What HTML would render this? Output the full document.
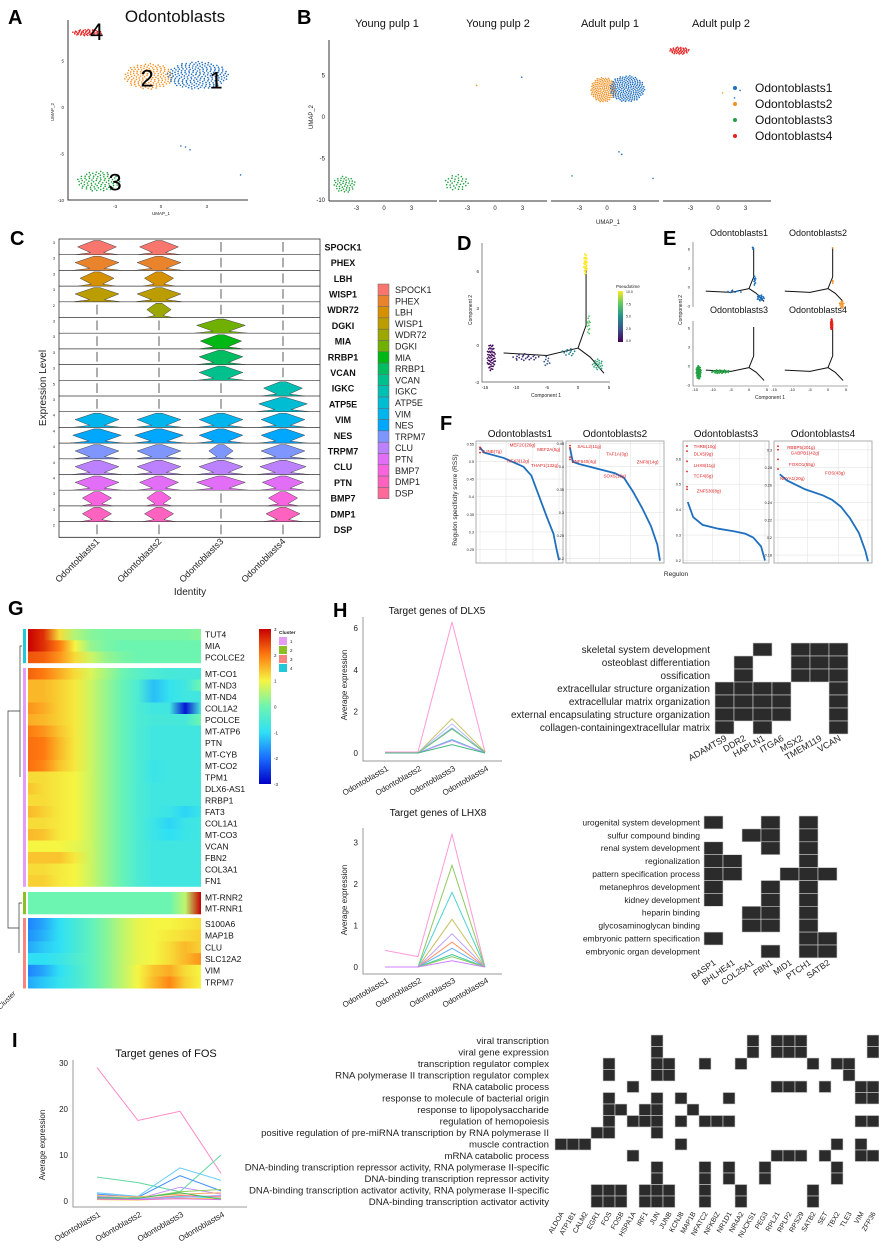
<!DOCTYPE html>
<html><head><meta charset="utf-8"><style>
html,body{margin:0;padding:0;background:#fff}
svg{display:block;font-family:"Liberation Sans",Arial,sans-serif}
</style></head><body>
<svg id="fig" width="879" height="1252" viewBox="0 0 879 1252" xmlns="http://www.w3.org/2000/svg">
<defs id="defs"></defs>
<rect x="0" y="0" width="879" height="1252" fill="#fff"/>
</svg>
<script>
// ===== DATA =====
const umapClustersName=['Odontoblasts1','Odontoblasts2','Odontoblasts3','Odontoblasts4'];
const umapColors=['#1f6fbf','#f39020','#20a040','#e82020'];
const aClouds=[[1,-0.8,3.3,1.6,1.4,150],[0,2.4,3.4,2.0,1.5,200],[3,-4.8,8.0,1.0,0.35,55],[2,-4.1,-8.0,1.4,1.1,90]];
const aStray=[[0,1.3,-4.2],[0,1.6,-4.3],[0,1.9,-4.6],[0,5.2,-7.3]];
const bClouds=[[0,2,-4.3,-8.1,1.2,1.0,45],[1,2,-4.2,-7.9,1.3,1.0,35],[2,1,-0.4,3.3,1.4,1.5,140],[2,0,2.2,3.4,1.9,1.6,180],[3,3,-4.2,8.0,1.1,0.45,45]];
const bStray=[[1,1,-2.0,3.8],[1,0,2.9,4.8],[2,0,1.3,-4.2],[2,0,1.6,-4.5],[2,2,-3.8,-7.1],[2,0,5.0,-7.4],[3,1,0.5,2.9],[3,0,1.8,2.3],[3,0,2.4,3.2]];
const cGenes=['SPOCK1','PHEX','LBH','WISP1','WDR72','DGKI','MIA','RRBP1','VCAN','IGKC','ATP5E','VIM','NES','TRPM7','CLU','PTN','BMP7','DMP1','DSP'];
const cColors=['#F8766D','#E9842C','#D69100','#BC9D00','#9CA700','#6FB000','#00B813','#00BD61','#00C08E','#00C0B4','#00BDD4','#00B5EE','#00A7FF','#7F96FF','#BC81FF','#E26EF7','#F863DF','#FF62BF','#FF6A9A'];
const cTickLabels=['3','3','3','3','2','3','3','3','3','5','3','4','4','4','4','4','3','3','2'];
const cWidths=[[0.8,0.8,0,0],[0.9,0.9,0,0],[0.7,0.6,0,0],[0.9,0.9,0,0],[0,0.5,0,0],[0,0,1,0],[0,0,0.85,0],[0,0,0.9,0],[0,0,0.9,0],[0,0,0,0.8],[0,0,0,1],[0.9,0.9,0.9,0.9],[1,1,0.9,0.9],[0.9,0.9,0.5,0.9],[0.9,0.9,0.9,0.95],[0.9,0.8,1,0.85],[0.6,0.5,0,0.6],[0.6,0.6,0,0.7],[0,0,0,0]];
const identities=['Odontoblasts1','Odontoblasts2','Odontoblasts3','Odontoblasts4'];
const trajBranches=[[[-12,-0.65],[-5,-0.85],[0,-0.25]],[[0,-0.25],[1.3,1.6],[1.3,6.2]],[[0,-0.25],[2,-1.0],[4.2,-2.3]]];
const dClouds=[[-14,-1.0,0.7,1.1,50,0.3],[-8.5,-1.0,2.2,0.3,22,1.6],[-5,-1.3,0.6,0.4,8,2.8],[-1.5,-0.6,1.2,0.3,12,4.5],[1.2,6.6,0.3,0.9,30,10],[1.7,1.6,0.3,0.8,12,7.2],[3.2,-1.6,0.9,0.45,20,6.0]];
const eClouds=[[0,1.1,6.2,0.2,0.2,3],[0,1.6,1.0,0.3,0.9,10],[0,3.2,-1.7,1.1,0.5,16],[0,-4,-0.7,2.5,0.2,8],[1,1.2,6.2,0.1,0.1,1],[1,1.3,0.9,0.2,0.3,3],[1,3.8,-2.8,0.7,0.6,12],[2,-14,-1.0,0.7,1.1,45],[2,-8,-0.9,2.6,0.3,30],[3,1.0,6.6,0.3,0.9,35]];
const eTitles=['Odontoblasts1','Odontoblasts2','Odontoblasts3','Odontoblasts4'];
const fTitles=['Odontoblasts1','Odontoblasts2','Odontoblasts3','Odontoblasts4'];
const fTicks=[[0.25,0.30,0.35,0.40,0.45,0.50,0.55],[0.20,0.25,0.30,0.35,0.40,0.45],[0.2,0.3,0.4,0.5,0.6],[0.18,0.20,0.22,0.24,0.26,0.28,0.30]];
const fCurve1=[[0,0.54],[0.05,0.525],[0.3,0.51],[0.55,0.485],[0.65,0.46],[0.75,0.40],[0.85,0.34],[0.93,0.295],[0.97,0.25],[1,0.22]];
const fCurve2=[[0,0.44],[0.03,0.41],[0.1,0.405],[0.3,0.395],[0.5,0.385],[0.6,0.375],[0.7,0.345],[0.8,0.31],[0.9,0.27],[0.97,0.23],[1,0.195]];
const fCurve3=[[0.01,0.43],[0.08,0.37],[0.2,0.34],[0.4,0.325],[0.6,0.315],[0.75,0.305],[0.85,0.29],[0.95,0.255],[1,0.2]];
const fCurve4=[[0.02,0.272],[0.1,0.265],[0.3,0.255],[0.5,0.248],[0.6,0.243],[0.7,0.235],[0.8,0.222],[0.9,0.205],[0.97,0.185],[1,0.173]];
const fTopDots=[[0.54,0.535,0.525],[0.445,0.44,0.42,0.415],[0.65,0.63,0.59,0.55,0.49,0.48],[0.304,0.30,0.289,0.278]];
const fLabels=[[['MEF2C(26g)',0.35,0.548],['MEF2A(5g)',0.7,0.535],['JUNB(7g)',0,0.53],['RFX3(12g)',0.32,0.502],['THAP1(132g)',0.62,0.49]],[['SALL2(11g)',0.06,0.444],['TAF1A(3g)',0.38,0.428],['ZNF8(14g)',0.72,0.41],['ZNF640(4g)',0,0.412],['SOX5(19g)',0.35,0.38]],[['THRB(10g)',0.06,0.65],['DLX5(9g)',0.06,0.62],['LHX8(11g)',0.06,0.575],['TCF4(6g)',0.06,0.535],['ZNF530(8g)',0.1,0.475]],[['RBBP5(201g)',0.08,0.303],['GABPB1(42g)',0.12,0.297],['FOXO1(55g)',0.1,0.284],['FOS(43g)',0.5,0.274],['NFYA1(20g)',0,0.268]]];
const fRanges=[[0.212,0.558],[0.19,0.455],[0.19,0.67],[0.171,0.31]];
const gGenes=['TUT4','MIA','PCOLCE2','MT-CO1','MT-ND3','MT-ND4','COL1A2','PCOLCE','MT-ATP6','PTN','MT-CYB','MT-CO2','TPM1','DLX6-AS1','RRBP1','FAT3','COL1A1','MT-CO3','VCAN','FBN2','COL3A1','FN1','MT-RNR2','MT-RNR1','S100A6','MAP1B','CLU','SLC12A2','VIM','TRPM7'];
const gCluster=[4,4,4,1,1,1,1,1,1,1,1,1,1,1,1,1,1,1,1,1,1,1,2,2,3,3,3,3,3,3];
const gValues=[
[3,2.6,1.2,0.5,0.2,0.1,0.1,0.1,0.1,0.1,0.1,0.2],
[3,2.6,2,1,0.3,0.1,0,0,0,0,0,0],
[2.3,2.2,1.8,1.2,0.7,0.3,0.1,0,0,0,0,0],
[2.2,2,1.6,1.2,0.8,0.4,0,-0.3,-0.5,-0.6,-0.6,-0.6],
[1.5,1.5,1.3,1.1,0.7,0.3,-0.1,-0.5,-1.3,-0.9,-0.7,0],
[1.5,1.5,1.3,1.1,0.7,0.3,-0.1,-0.5,-1.3,-0.9,-0.7,-0.7],
[1.8,1.6,1.3,1.1,0.7,0.3,-0.1,-0.5,-0.7,-0.7,-2.8,-0.6],
[1.6,1.5,1.3,1.1,0.7,0.3,-0.1,-0.5,-0.6,-0.6,-0.6,0],
[2,1.8,1.4,1.1,0.7,0.3,-0.1,-0.5,-0.7,-0.7,-0.7,-0.7],
[2.1,2,1.5,1.1,0.7,0.3,-0.1,-0.5,-0.7,-0.7,-0.7,-0.7],
[2.1,2,1.5,1.1,0.7,0.3,-0.1,-0.5,-0.7,-0.7,-0.7,-0.7],
[2.1,1.9,1.4,1.1,0.7,0.3,-0.1,-0.5,-0.8,-0.7,-0.7,-0.7],
[1.2,1.2,1.1,1,0.7,0.3,-0.1,-0.5,-0.8,-0.7,-0.7,-0.7],
[1.4,1.2,1.1,1,0.7,0.3,-0.1,-0.5,-0.7,-0.7,-0.7,-0.7],
[1.2,1.2,1.1,1,0.7,0.3,-0.1,-0.5,-0.7,-0.7,-0.7,-0.7],
[1.5,1.3,1.1,1,0.7,0.3,-0.1,-0.5,-0.7,-0.8,-1.1,-0.8],
[1.2,1.2,1.1,1,0.7,0.3,-0.1,-0.5,-0.8,-1.1,-0.8,-0.7],
[1.5,1.4,1.1,1,0.7,0.3,-0.1,-0.5,-0.8,-1,-0.8,-0.7],
[1,1,1,0.9,0.7,0.3,-0.1,-0.5,-0.7,-0.7,-0.7,-0.7],
[1.4,1.4,1.4,1.1,0.7,0.3,-0.1,-0.5,-0.7,-0.7,-0.7,-0.7],
[1.2,1.2,1.1,1,0.7,0.3,-0.1,-0.5,-0.7,-0.7,-0.7,-0.7],
[1.3,1.3,1.1,1,0.7,0.3,-0.1,-0.5,-0.7,-0.7,-0.7,-0.7],
[0,0,0,0,0,0,0,0,0,0,0.6,3],
[0,0,0,0,0,0,0,0,0,0,0.6,3],
[-1.8,-1.5,-1,-0.6,-0.2,0.2,0.6,0.9,1,1,1.1,1.2],
[-1.7,-1.4,-1,-0.6,-0.2,0.2,0.6,0.9,1,1.1,1.2,1.3],
[-1.5,-1.2,-1,-0.6,-0.2,0.2,0.6,0.9,1,1.2,1.5,1.3],
[-1,-1,-0.8,-0.5,-0.2,0.2,0.6,0.9,1,1.2,1.5,1.8],
[-1.8,-1.5,-1,-0.6,-0.2,0.2,0.6,1,1.4,1.6,1.2,1],
[-1.5,-1.2,-0.9,-0.6,-0.2,0.2,0.6,1,1.5,1.9,1.3,1]];
const gScaleTicks=[3,2,1,0,-1,-2,-3];
const gClusterColors={1:'#e49cf5',2:'#8cbf26',3:'#f8857d',4:'#20c8d8'};
const hCats=['Odontoblasts1','Odontoblasts2','Odontoblasts3','Odontoblasts4'];
const dlx5Series=[[0.05,0.05,6.3,0.05],[0,0,1.65,0.05],[0,0,1.4,0],[0,0,1.2,0],[0,0,1.15,0.05],[0,0,0.65,0],[0,0,0.6,0],[0,0,0.4,0]];
const dlx5Colors=['#ff9ad8','#c8c060','#b8c0ff','#80a8ff','#70c870','#50c8c8','#c090ff','#40b880'];
const dlx5Ticks=[0,2,4,6];
const lhx8Series=[[0.4,0.25,3.2,0],[0,0,2.45,0],[0,0,1.8,0],[0,0,1.15,0],[0,0,0.8,0],[0,0,0.6,0],[0,0,0.45,0],[0,0,0.3,0],[0,0,0.25,0],[0,0,0.15,0]];
const lhx8Colors=['#ff9ad8','#90c860','#50d0d0','#c8c060','#c0a0ff','#ff9060','#60b0ff','#40c8a0','#80d060','#d080ff'];
const lhx8Ticks=[0,1,2,3];
const fosSeries=[[29,17.5,19.5,6],[5.2,4,2,10],[1.8,1,7.2,4.5],[1.5,0.8,5.5,2.2],[1,0.5,3,1.5],[0.8,0.6,2,2.5],[1.2,0.9,1.5,1.8],[0.6,0.4,1.2,0.9],[0.5,0.3,1,0.6],[0.9,0.5,0.8,1.2],[0.3,0.2,0.6,0.5],[0.7,0.6,1.8,0.4],[0.4,0.3,0.5,0.3]];
const fosColors=['#ff88c8','#60d8a0','#60c8ff','#4090ff','#c090ff','#90d060','#ffb060','#ff7070','#60e0e0','#a0a0ff','#ffd040','#40c060','#e070e0'];
const fosTicks=[0,10,20,30];
const goDlxTerms=['skeletal system development','osteoblast differentiation','ossification','extracellular structure organization','extracellular matrix organization','external encapsulating structure organization','collagen-containingextracellular matrix'];
const goDlxGenes=['ADAMTS9','DDR2','HAPLN1','ITGA6','MSX2','TMEM119','VCAN'];
const goDlxMatrix=[[0,0,1,0,1,1,1],[0,1,0,0,1,1,1],[0,1,0,0,1,1,1],[1,1,1,1,0,0,1],[1,1,1,1,0,0,1],[1,1,1,1,0,0,1],[1,0,1,0,0,0,1]];
const goLhxTerms=['urogenital system development','sulfur compound binding','renal system development','regionalization','pattern specification process','metanephros development','kidney development','heparin binding','glycosaminoglycan binding','embryonic pattern specification','embryonic organ development'];
const goLhxGenes=['BASP1','BHLHE41','COL25A1','FBN1','MID1','PTCH1','SATB2'];
const goLhxMatrix=[[1,0,0,1,0,1,0],[0,0,1,1,0,1,0],[1,0,0,1,0,1,0],[1,1,0,0,0,1,0],[1,1,0,0,1,1,1],[1,0,0,1,0,1,0],[1,0,0,1,0,1,0],[0,0,1,1,0,1,0],[0,0,1,1,0,1,0],[1,0,0,0,0,1,1],[0,0,0,1,0,1,1]];
const goFosTerms=['viral transcription','viral gene expression','transcription regulator complex','RNA polymerase II transcription regulator complex','RNA catabolic process','response to molecule of bacterial origin','response to lipopolysaccharide','regulation of hemopoiesis','positive regulation of pre-miRNA transcription by RNA polymerase II','muscle contraction','mRNA catabolic process','DNA-binding transcription repressor activity, RNA polymerase II-specific','DNA-binding transcription repressor activity','DNA-binding transcription activator activity, RNA polymerase II-specific','DNA-binding transcription activator activity'];
const goFosGenes=['ALDOA','ATP1B1','CALM2','EGR1','FOS','FOSB','HSPA1A','IRF1','JUN','JUNB','KCNJ8','MAP1B','NFATC2','NFKBIZ','NR1D1','NR4A2','NUCKS1','PEG3','RPL21','RPLP2','RPS29','SATB2','SET','TBX2','TLE3','VIM','ZFP36'];
const goFosHits=[[8,16,18,19,20,26],[8,16,18,19,20,26],[4,8,9,12,15,21,23,24],[4,8,9,24],[6,18,19,20,22,25,26],[4,8,10,14,25,26],[4,5,7,8,11],[4,6,7,8,12,13,10,14,25,26],[3,4,8],[0,1,2,10,23,25],[6,18,19,20,22,25,26],[8,12,14,17,23],[8,12,14,17,23],[3,4,5,7,8,9,12,15,21],[3,4,5,7,8,9,12,15,21]];

// ===== HELPERS =====
const NS='http://www.w3.org/2000/svg';
const svg=document.getElementById('fig');
const defs=document.getElementById('defs');
function el(tag,attrs,parent){const e=document.createElementNS(NS,tag);for(const k in attrs)e.setAttribute(k,attrs[k]);(parent||svg).appendChild(e);return e;}
function T(x,y,s,size,anchor,parent,extra){const e=el('text',Object.assign({x:x,y:y,'font-size':size,'text-anchor':anchor||'start',fill:'#222'},extra||{}),parent);e.textContent=s;return e;}
function G(name){const g=el('g',{});return g;}
function cloud(cx,cy,rx,ry,n){const pts=[];const ga=2.39996;for(let i=0;i<n;i++){const r=Math.sqrt((i+0.5)/n);const a=i*ga;pts.push([cx+rx*r*Math.cos(a),cy+ry*r*Math.sin(a)]);}return pts;}
function panelLetter(x,y,s){const t=T(x,y,s,20,'start',svg,{'font-weight':'bold',fill:'#000'});}

// ===== PANEL A =====
(function(){
const g=G('panel-a-umap');
panelLetter(8,24,'A');
const xs=u=>161+15.3*u, ys=v=>107-9.3*v;
let t=T(175,22,'Odontoblasts',17,'middle',g,{fill:'#111'});

let ax=el('path',{d:'M68,20 V200 H248',stroke:'#333','stroke-width':1,fill:'none'},g);

[5,0,-5,-10].forEach(v=>{const tt=T(64,ys(v)+2,String(v),4.5,'end',g);});
[-3,0,3].forEach(u=>{const tt=T(xs(u),208,String(u),4.5,'middle',g);});
t=T(161,215,'UMAP_1',4.5,'middle',g);
t=T(0,0,'UMAP_2',4.5,'middle',g,{transform:'translate(54,112) rotate(-90)'});
aClouds.forEach(c=>{cloud(c[1],c[2],c[3],c[4],c[5]).forEach(p=>{const d=el('circle',{cx:xs(p[0]),cy:ys(p[1]),r:0.8,fill:umapColors[c[0]]},g);});});
aStray.forEach(s=>{const d=el('circle',{cx:xs(s[1]),cy:ys(s[2]),r:0.8,fill:umapColors[s[0]]},g);});
[['4',-4.2,7.2],['2',-0.9,2.2],['1',3.6,2.0],['3',-3.0,-9.0]].forEach(l=>{const tt=T(xs(l[1]),ys(l[2]),l[0],24,'middle',g,{fill:'#000'});});
})();

// ===== PANEL B =====
(function(){
const g=G('panel-b-umap-facets');
panelLetter(297,24,'B');
const fx=[384,495,607,718], titles=['Young pulp 1','Young pulp 2','Adult pulp 1','Adult pulp 2'];
const ys=v=>117-8.3*v;
const starts=[329,439,551,663];
titles.forEach((s,i)=>{const t=T(fx[i]+3,27,s,11,'middle',g,{fill:'#111'});
 const a=el('line',{x1:starts[i],x2:starts[i]+108,y1:201,y2:201,stroke:'#333','stroke-width':1},g);
 [-3,0,3].forEach(u=>{const tt=T(fx[i]+9.2*u,210,String(u),6,'middle',g);});});
let a=el('line',{x1:329,x2:329,y1:40,y2:201,stroke:'#333','stroke-width':1},g);
[5,0,-5,-10].forEach(v=>{const tt=T(325,ys(v)+2,String(v),6,'end',g);});
let t=T(608,224,'UMAP_1',6,'middle',g);
t=T(0,0,'UMAP_2',6,'middle',g,{transform:'translate(313,117) rotate(-90)'});
bClouds.forEach(c=>{cloud(c[2],c[3],c[4],c[5],c[6]).forEach(p=>{const d=el('circle',{cx:fx[c[0]]+9.2*p[0],cy:ys(p[1]),r:0.8,fill:umapColors[c[1]]},g);});});
bStray.forEach(s=>{const d=el('circle',{cx:fx[s[0]]+9.2*s[2],cy:ys(s[3]),r:0.8,fill:umapColors[s[1]]},g);});
umapClustersName.forEach((n,i)=>{const y=88+16*i;const d=el('circle',{cx:735,cy:y,r:2,fill:umapColors[i]},g);
 const tt=T(755,y+4,n,12,'start',g,{fill:'#111'});});
})();

// ===== PANEL C =====
(function(){
const g=G('panel-c-violin');
panelLetter(10,245,'C');
const top=239, rowH=15.7, x0=59, x1=320, cols=[97,159,221,283];
const fr=el('rect',{x:x0,y:top,width:x1-x0,height:rowH*19,fill:'none',stroke:'#333','stroke-width':0.8},g);
cGenes.forEach((gene,r)=>{const yT=top+r*rowH, yB=yT+rowH;
 const ln=el('line',{x1:x0,x2:x1,y1:yB,y2:yB,stroke:'#333','stroke-width':0.7},g);
 const tk=T(55,yT+5,cTickLabels[r],4,'end',g);
 const lb=T(343,yT+rowH/2+3.5,gene,9,'middle',g,{'font-weight':'bold',fill:'#111'});
 cWidths[r].forEach((w,c)=>{const cx=cols[c];
  if(w<=0){const s=el('line',{x1:cx,x2:cx,y1:yT+3,y2:yB-3,stroke:'#333','stroke-width':0.8},g);return;}
  const W=w*27, mid=yT+rowH*0.5;
  const d=`M${cx-W},${yB} L${cx-W*0.3},${yB-2} L${cx-W*0.9},${mid} L${cx-3},${yT+1.5} L${cx+3},${yT+1.5} L${cx+W*0.9},${mid} L${cx+W*0.3},${yB-2} L${cx+W},${yB} Z`;
  const v=el('path',{d:d,fill:cColors[r],stroke:'#444','stroke-width':0.5},g);});
 const lk=el('rect',{x:378,y:284+r*11.3,width:11,height:11.3,fill:cColors[r],stroke:'#666','stroke-width':0.5},g);
 const lt=T(395,284+r*11.3+9,gene,9,'start',g);
});
identities.forEach((s,i)=>{const t=T(0,0,s,9,'end',g,{transform:`translate(${cols[i]+3},${542}) rotate(-45)`});});
let t=T(190,595,'Identity',10,'middle',g);
t=T(0,0,'Expression Level',10,'middle',g,{transform:'translate(46,388) rotate(-90)'});
})();

// ===== PANEL D =====
function ptColor(p){const st=[[0,[68,1,84]],[2.5,[59,82,139]],[5,[33,145,140]],[7.5,[94,201,98]],[10,[253,231,37]]];for(let i=0;i<4;i++){if(p<=st[i+1][0]){const f=(p-st[i][0])/2.5;const c=st[i][1].map((v,k)=>Math.round(v+(st[i+1][1][k]-v)*f));return `rgb(${c})`;}}return 'rgb(253,231,37)';}
(function(){
const g=G('panel-d-pseudotime');
panelLetter(457,250,'D');
const xs=u=>578+6.2*u, ys=v=>345-12.3*v;
const ax=el('path',{d:'M482,243 V382 H610',stroke:'#555','stroke-width':0.7,fill:'none'},g);
[-3,0,3,6].forEach(v=>{const t=T(479,ys(v)+2,String(v),4.5,'end',g);});
[-15,-10,-5,0,5].forEach(u=>{const t=T(xs(u),389,String(u),4.5,'middle',g);});
let t=T(546,397,'Component 1',5,'middle',g);
t=T(0,0,'Component 2',5,'middle',g,{transform:'translate(472,310) rotate(-90)'});
trajBranches.forEach(b=>{const p=el('polyline',{points:b.map(q=>xs(q[0])+','+ys(q[1])).join(' '),fill:'none',stroke:'#111','stroke-width':1},g);});
dClouds.forEach(c=>{cloud(c[0],c[1],c[2],c[3],c[4]).forEach(p=>{const d=el('circle',{cx:xs(p[0]),cy:ys(p[1]),r:0.9,fill:ptColor(c[5])},g);});});
const lg=el('linearGradient',{id:'viridis',x1:0,y1:1,x2:0,y2:0},defs);
[0,2.5,5,7.5,10].forEach((p,i)=>el('stop',{offset:i/4,'stop-color':ptColor(p)},lg));
const bar=el('rect',{x:618,y:291,width:5,height:51,fill:'url(#viridis)'},g);
t=T(616,288,'Pseudotime',4.5,'start',g);
['10.0','7.5','5.0','2.5','0.0'].forEach((s,i)=>{const tt=T(626,293+i*12.3,s,3.5,'start',g);});
})();

// ===== PANEL E =====
(function(){
const g=G('panel-e-trajectory-facets');
panelLetter(663,245,'E');
const zx=[749,828], zy=[287,366];
eTitles.forEach((s,i)=>{const c=i%2,r=Math.floor(i/2);
 const t=T(zx[c]-10,236+r*77,s,9,'middle',g,{fill:'#111'});
 const xs=u=>zx[c]+3.6*u, ys=v=>zy[r]-6.3*v;
 trajBranches.forEach(b=>{const p=el('polyline',{points:b.map(q=>xs(q[0])+','+ys(q[1])).join(' '),fill:'none',stroke:'#111','stroke-width':1},g);});
 eClouds.filter(e=>e[0]===i).forEach(e=>{cloud(e[1],e[2],e[3],e[4],e[5]).forEach(p=>{const d=el('circle',{cx:xs(p[0]),cy:ys(p[1]),r:0.9,fill:umapColors[i]},g);});});
});
[0,1].forEach(r=>{const a=el('line',{x1:693,x2:693,y1:zy[r]-45,y2:zy[r]+20,stroke:'#555','stroke-width':0.6},g);
 [-3,0,3,6].forEach(v=>{const t=T(690,zy[r]-6.3*v+1.5,String(v),4,'end',g);});});
[0,1].forEach(c=>{const a=el('line',{x1:zx[c]-56,x2:zx[c]+20,y1:386,y2:386,stroke:'#555','stroke-width':0.6},g);
 [-15,-10,-5,0,5].forEach(u=>{const t=T(zx[c]+3.6*u,391,String(u),4,'middle',g);});});
let t=T(770,399,'Component 1',5,'middle',g);
t=T(0,0,'Component 2',5,'middle',g,{transform:'translate(682,310) rotate(-90)'});
})();

// ===== PANEL F =====
(function(){
const g=G('panel-f-regulon-specificity');
panelLetter(440,430,'F');
const boxes=[[476,441,563,563],[566,441,664,563],[683,441,769,563],[774,441,872,563]];
const curves=[fCurve1,fCurve2,fCurve3,fCurve4];
const tx=[520,615,726,823];
boxes.forEach((b,i)=>{const [x0,y0,x1,y1]=b;
 const t=T(tx[i],437,fTitles[i],10,'middle',g,{fill:'#111'});
 const ys=v=>y1-(v-fRanges[i][0])/(fRanges[i][1]-fRanges[i][0])*(y1-y0);
 const xs=f=>x0+4+f*(x1-x0-8);
 [0,0.33,0.67,1].forEach(f=>{const l=el('line',{x1:xs(f),x2:xs(f),y1:y0,y2:y1,stroke:'#e4e4e4','stroke-width':0.6},g);});
 fTicks[i].forEach(v=>{const l=el('line',{x1:x0,x2:x1,y1:ys(v),y2:ys(v),stroke:'#e4e4e4','stroke-width':0.6},g);
  const tt=T(x0-2,ys(v)+1.5,v.toFixed(2).replace(/0$/,'').replace(/^0\.(\d)$/,'0.$1'),3.8,'end',g);});
 const fr=el('rect',{x:x0,y:y0,width:x1-x0,height:y1-y0,fill:'none',stroke:'#999','stroke-width':0.8},g);
 const pl=el('polyline',{points:curves[i].map(p=>xs(p[0])+','+ys(p[1])).join(' '),fill:'none',stroke:'#1f6fbf','stroke-width':1.8},g);
 fTopDots[i].forEach(v=>{const d=el('circle',{cx:xs(0),cy:ys(v),r:0.9,fill:'#e02020'},g);});
 fLabels[i].forEach(l=>{const tt=T(xs(l[1])+2,ys(l[2])+2,l[0],4.5,'start',g,{fill:'#e02020'});});
});
let t=T(676,576,'Regulon',6.5,'middle',g);
t=T(0,0,'Regulon specificity score (RSS)',6.5,'middle',g,{transform:'translate(457,500) rotate(-90)'});
})();

// ===== PANEL G =====
const heatStops=[[-3,'#0000c8'],[-2,'#1a6dff'],[-1,'#2fe0f5'],[0,'#6cf5b0'],[1,'#f5f542'],[2,'#ff7a10'],[3,'#c80000']];
function heatColor(v){v=Math.max(-3,Math.min(3,v));for(let i=0;i<6;i++){if(v<=heatStops[i+1][0]){const f=v-heatStops[i][0];const a=hex(heatStops[i][1]),b=hex(heatStops[i+1][1]);return 'rgb('+a.map((x,k)=>Math.round(x+(b[k]-x)*f)).join(',')+')';}}return heatStops[6][1];}
function hex(h){return [1,3,5].map(i=>parseInt(h.substr(i,2),16));}
(function(){
const g=G('panel-g-heatmap');
panelLetter(8,615,'G');
const blocks={4:[629,11.3],1:[668,11.5],2:[892,11],3:[918,11.7]};
const firstIdx={4:0,1:3,2:22,3:24};
gGenes.forEach((gene,r)=>{const cl=gCluster[r];const y=blocks[cl][0]+(r-firstIdx[cl])*blocks[cl][1];const h=blocks[cl][1];
 const lg=el('linearGradient',{id:'hg'+r,x1:0,x2:1,y1:0,y2:0},defs);
 gValues[r].forEach((v,k)=>el('stop',{offset:k/(gValues[r].length-1),'stop-color':heatColor(v)},lg));
 const rc=el('rect',{x:28,y:y,width:173,height:h+0.3,fill:'url(#hg'+r+')'},g);
 const an=el('rect',{x:23,y:y,width:3,height:h+0.3,fill:gClusterColors[cl]},g);
 const t=T(205,y+h/2+3,gene,8.5,'start',g,{fill:'#111'});
});
const dn=el('path',{d:'M22,646 H20 V777 M22,903 H19 V953 M20,711 H8 V928 H19',fill:'none',stroke:'#333','stroke-width':0.7},g);
const cg=el('linearGradient',{id:'heatbar',x1:0,y1:0,x2:0,y2:1},defs);
gScaleTicks.forEach((v,i)=>el('stop',{offset:i/6,'stop-color':heatColor(v)},cg));
const cb=el('rect',{x:259,y:629,width:12,height:155,fill:'url(#heatbar)'},g);
gScaleTicks.forEach((v,i)=>{const t=T(274,629+i*155/6+2,String(v),4.5,'start',g);});
let t=T(279,634,'Cluster',4.8,'start',g,{'font-weight':'bold'});
[1,2,3,4].forEach((k,i)=>{const s=el('rect',{x:279,y:637+i*9,width:8,height:8,fill:gClusterColors[k]},g);
 const tt=T(290,643+i*9,String(k),4.5,'start',g);});
t=T(0,0,'Cluster',7,'end',g,{transform:'translate(16,994) rotate(-45)','font-style':'italic'});
})();

// ===== LINE PLOTS (H, I) =====
function linePlot(name,title,tx,ty,ax0,ay0,ax1,ay1,cats,catX,ticks,zeroY,unit,series,colors,ylabelX,ylabelY,labelY,fs){
 const g=G(name);
 let t=T(tx,ty,title,fs,'middle',g,{fill:'#111'});
 const ax=el('path',{d:`M${ax0},${ay0} V${ay1} H${ax1}`,fill:'none',stroke:'#999','stroke-width':1},g);
 const ys=v=>zeroY-unit*v;
 ticks.forEach(v=>{const tt=T(ax0-5,ys(v)+3,String(v),8,'end',g);});
 cats.forEach((c,i)=>{const tt=T(0,0,c,8,'end',g,{transform:`translate(${catX[i]+4},${labelY}) rotate(-30)`});});
 t=T(0,0,'Average expression',8,'middle',g,{transform:`translate(${ylabelX},${ylabelY}) rotate(-90)`});
 series.forEach((s,k)=>{const p=el('polyline',{points:s.map((v,i)=>catX[i]+','+ys(v)).join(' '),fill:'none',stroke:colors[k],'stroke-width':1},g);});
}
panelLetter(333,617,'H');
linePlot('h-dlx5','Target genes of DLX5',437,614,363,617,502,761,hCats,[385,418,452,485],dlx5Ticks,753,20.8,dlx5Series,dlx5Colors,347,685,770,10);
linePlot('h-lhx8','Target genes of LHX8',438,816,363,828,502,974,hCats,[385,418,452,485],lhx8Ticks,967,41.5,lhx8Series,lhx8Colors,347,900,982,10);
panelLetter(12,1047,'I');
linePlot('i-fos','Target genes of FOS',166,1057,73,1060,247,1207,hCats,[97,138,180,221],fosTicks,1201,4.6,fosSeries,fosColors,45,1145,1216,11);

// ===== GO MATRICES =====
function goMatrix(name,terms,genes,hits,x0,y0,cw,ch,labelX,fs,rot,gfs){
 const g=G(name);
 terms.forEach((term,r)=>{const t=T(labelX,y0+r*ch+ch/2+fs*0.35,term,fs,'end',g,{fill:'#222'});
  hits[r].forEach(c=>{const rc=el('rect',{x:x0+c*cw,y:y0+r*ch,width:cw,height:ch,fill:'#2b2b2b',stroke:'#cfcfcf','stroke-width':0.6},g);});});
 genes.forEach((gn,c)=>{const t=T(0,0,gn,gfs,'end',g,{transform:`translate(${x0+c*cw+cw/2+3},${y0+terms.length*ch+6}) rotate(${rot})`});});
}
function toHits(m){return m.map(row=>row.map((v,i)=>v?i:-1).filter(i=>i>=0));}
goMatrix('h-dlx5-go',goDlxTerms,goDlxGenes,toHits(goDlxMatrix),715,643,19,13,710,10,-30,9);
goMatrix('h-lhx8-go',goLhxTerms,goLhxGenes,toHits(goLhxMatrix),704,816,19,12.9,700,8.5,-35,8.5);
goMatrix('i-fos-go',goFosTerms,goFosGenes,goFosHits,555,1035,12,11.5,549,9.6,-60,7);
</script>
</body></html>
